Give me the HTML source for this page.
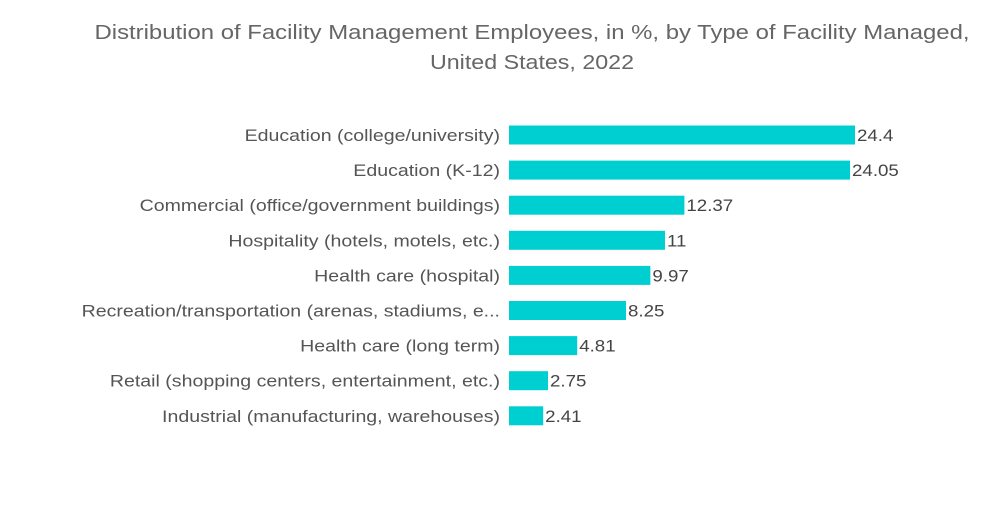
<!DOCTYPE html>
<html><head><meta charset="utf-8"><style>
body{margin:0;background:#fff;width:1000px;height:504px;overflow:hidden;font-family:"Liberation Sans",sans-serif}
</style></head><body>
<svg id="chart" width="1000" height="504">
<text x="532" y="39" text-anchor="middle" font-size="20" fill="#666" textLength="875" lengthAdjust="spacingAndGlyphs">Distribution of Facility Management Employees, in %, by Type of Facility Managed,</text>
<text x="532" y="69" text-anchor="middle" font-size="20" fill="#666" textLength="204" lengthAdjust="spacingAndGlyphs">United States, 2022</text>
<g id="bars"></g>
</svg>
<script>
const categories=["Education (college/university)","Education (K-12)","Commercial (office/government buildings)","Hospitality (hotels, motels, etc.)","Health care (hospital)","Recreation/transportation (arenas, stadiums, e...","Health care (long term)","Retail (shopping centers, entertainment, etc.)","Industrial (manufacturing, warehouses)"];
const values=[24.4,24.05,12.37,11,9.97,8.25,4.81,2.75,2.41];
const labels=["24.4","24.05","12.37","11","9.97","8.25","4.81","2.75","2.41"];
const x0=509,scale=346/24.4,y0=135,step=35.1,bh=19;
const g=document.getElementById('bars');const ns='http://www.w3.org/2000/svg';
categories.forEach((c,i)=>{
const cy=y0+i*step,w=values[i]*scale;
const r=document.createElementNS(ns,'rect');
r.setAttribute('x',x0);r.setAttribute('y',cy-bh/2);r.setAttribute('width',w);r.setAttribute('height',bh);r.setAttribute('fill','#00cfd1');


g.appendChild(r);
const t=document.createElementNS(ns,'text');
t.setAttribute('x',500);t.setAttribute('y',cy+6);t.setAttribute('text-anchor','end');t.setAttribute('font-size','17');t.setAttribute('fill','#555');t.textContent=c;


g.appendChild(t);
const tl=t.getComputedTextLength();
t.setAttribute('textLength',tl*1.15);t.setAttribute('lengthAdjust','spacingAndGlyphs');
const v=document.createElementNS(ns,'text');
v.setAttribute('x',x0+w+2);v.setAttribute('y',cy+6);v.setAttribute('font-size','17');v.setAttribute('fill','#444');v.textContent=labels[i];


g.appendChild(v);
const vl=v.getComputedTextLength();
v.setAttribute('textLength',vl*1.1);v.setAttribute('lengthAdjust','spacingAndGlyphs');
});
</script>
</body></html>
